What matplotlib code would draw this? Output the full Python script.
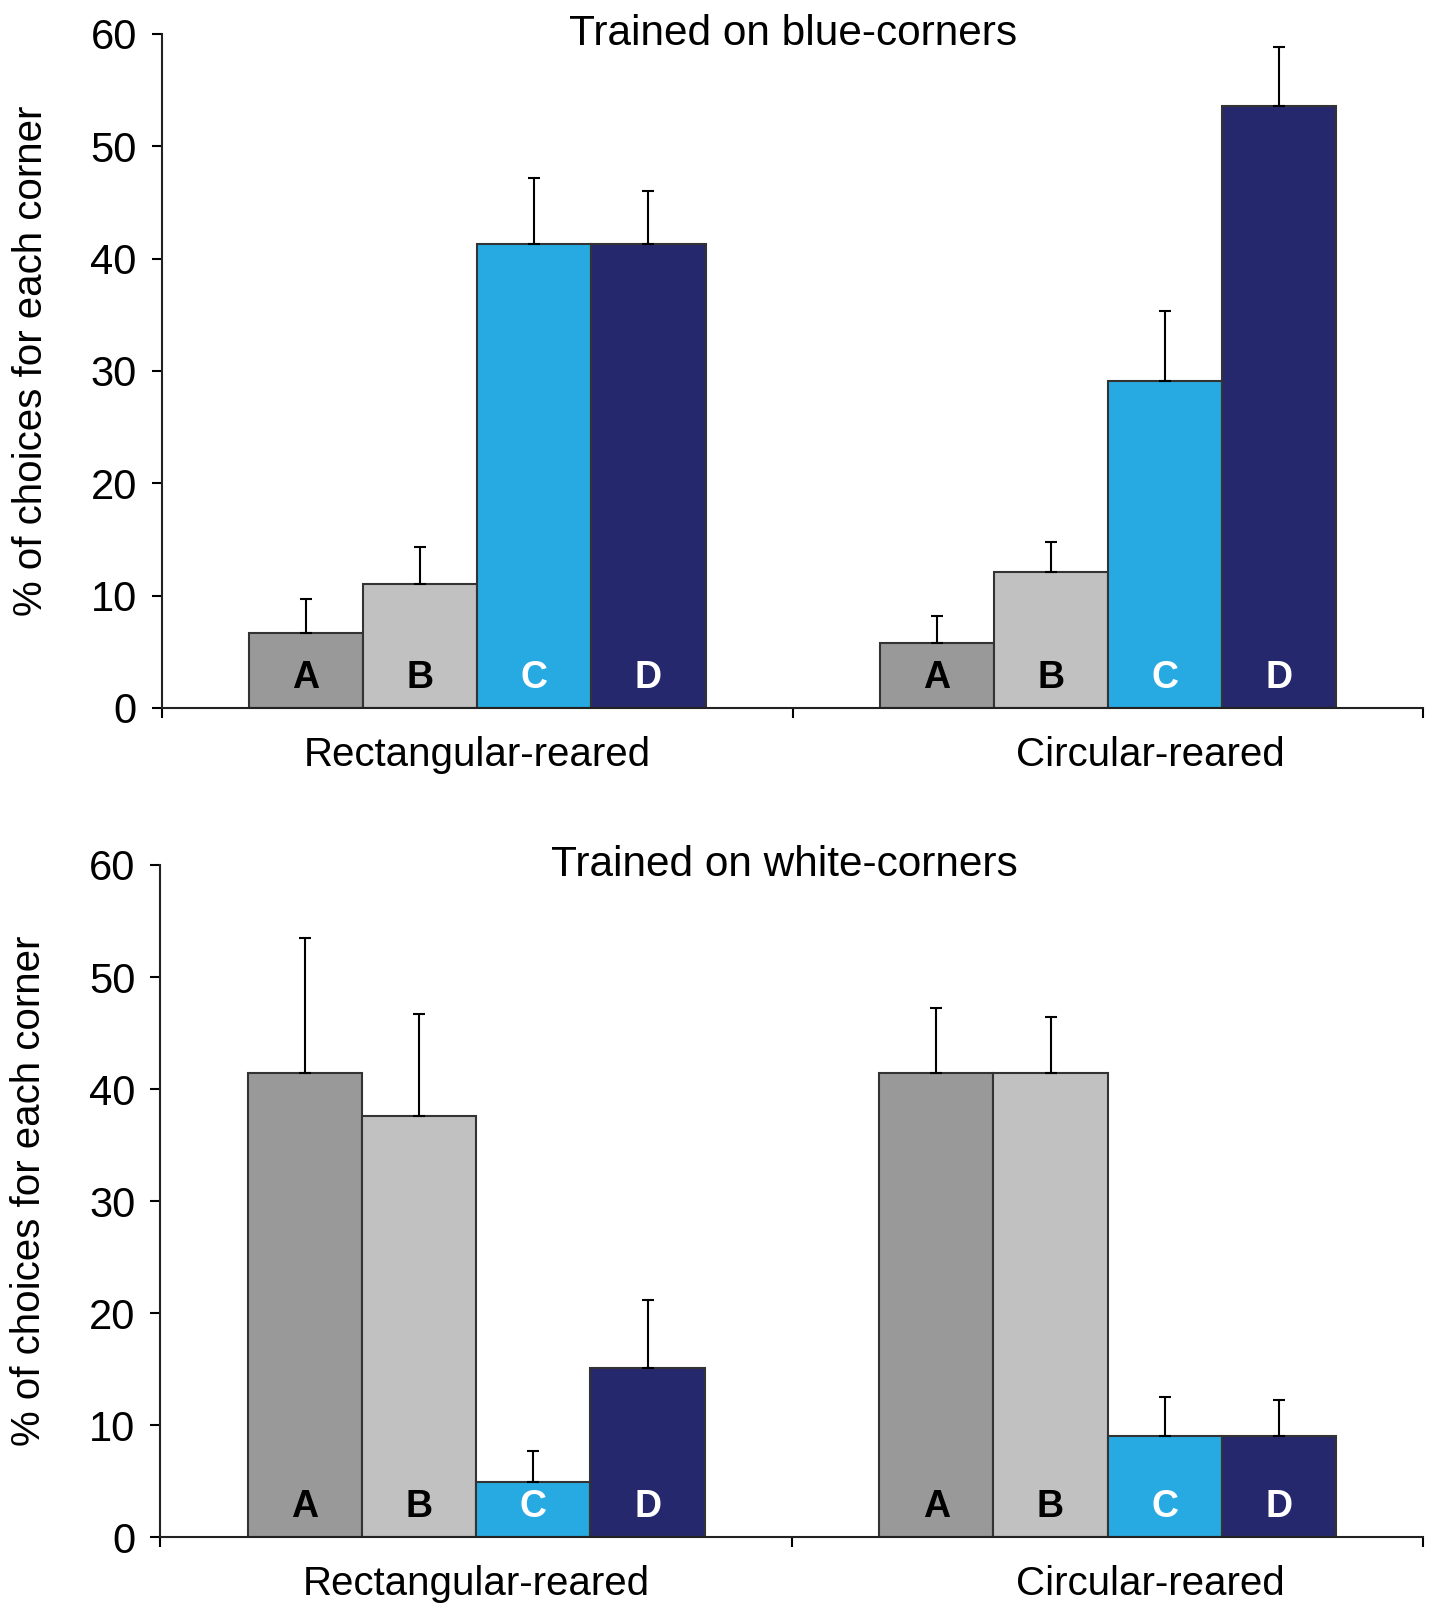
import numpy as np
import matplotlib.pyplot as plt

plt.rcParams['font.family'] = ['Liberation Sans', 'DejaVu Sans']

# data
groups = ['Rectangular-reared', 'Circular-reared']
group_label_pos = [0.5, 1.567]
corners = ['A', 'B', 'C', 'D']
colors = ['#999999', '#c1c1c1', '#27aae1', '#26286d']
text_colors = ['black', 'black', 'white', 'white']

titles = ['Trained on blue-corners', 'Trained on white-corners']
title_pos = [0.5, 0.494]

# means [group][corner]
blue_means = [[6.7, 11.0, 41.3, 41.3],
              [5.8, 12.1, 29.1, 53.6]]
blue_err = [[3.0, 3.3, 5.9, 4.7],
            [2.4, 2.7, 6.2, 5.2]]

white_means = [[41.4, 37.6, 4.9, 15.1],
               [41.4, 41.4, 9.0, 9.0]]
white_err = [[12.1, 9.1, 2.8, 6.1],
             [5.8, 5.0, 3.5, 3.2]]

panels = [(blue_means, blue_err), (white_means, white_err)]

fig = plt.figure(figsize=(14.32, 16.09), dpi=100)
ax_top = fig.add_axes([0.113, 0.560, 0.881, 0.419])
ax_bot = fig.add_axes([0.112, 0.0447, 0.882, 0.4177])

bar_w = 0.181
for ax, (means, errs), title, tx in zip([ax_top, ax_bot], panels, titles, title_pos):
    for g in range(len(groups)):
        center = g + 0.5
        for i in range(len(corners)):
            x = center + (i - 1.5) * bar_w
            ax.bar(x, means[g][i], width=bar_w, color=colors[i],
                   edgecolor='#333333', linewidth=1.5, zorder=2)
            ax.errorbar(x, means[g][i], yerr=[[0], [errs[g][i]]], fmt='none',
                        ecolor='black', elinewidth=1.5, capsize=4, capthick=1.5,
                        zorder=3)
            ax.text(x, 2.7, corners[i], ha='center', va='center',
                    fontsize=27, fontweight='bold', color=text_colors[i], zorder=4)

    ax.set_xlim(0, 2)
    ax.set_ylim(0, 60)
    ax.set_yticks(np.arange(0, 61, 10))
    ax.set_xticks([0, 1, 2])
    ax.set_xticklabels([])
    ax.set_xticks(group_label_pos, minor=True)
    ax.set_xticklabels(groups, minor=True, fontsize=29)
    ax.tick_params(axis='x', which='minor', length=0, pad=20)
    ax.tick_params(axis='x', which='major', length=7, width=1.5, direction='out')
    ax.tick_params(axis='y', length=7, width=1.5, labelsize=30, pad=11)
    for s in ['top', 'right']:
        ax.spines[s].set_visible(False)
    for s in ['left', 'bottom']:
        ax.spines[s].set_linewidth(1.5)
        ax.spines[s].set_color('#222222')
    ax.set_ylabel('% of choices for each corner', fontsize=29)
    ax.yaxis.set_label_coords(-0.089, 0.515)
    ax.text(tx, 1.0, title, transform=ax.transAxes, ha='center', va='center',
            fontsize=30.5)

fig.savefig('out.png', dpi=100)
